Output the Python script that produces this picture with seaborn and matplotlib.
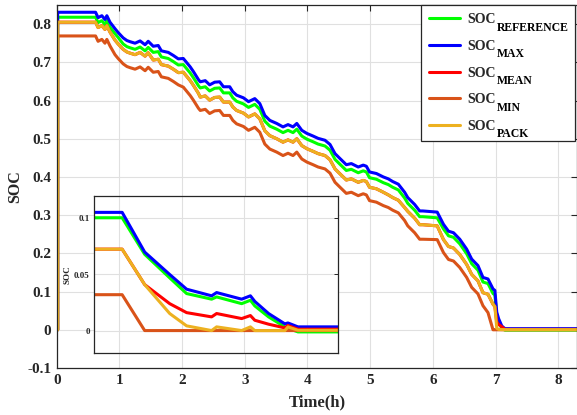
import matplotlib
matplotlib.use("Agg")
import matplotlib.pyplot as plt
import seaborn as sns
import numpy as np

# ---------------- data ----------------
t_main = [0.015, 0.015, 0.62, 0.66, 0.72, 0.77, 0.80, 0.85, 0.93, 0.98,
          1.06, 1.12, 1.17, 1.25, 1.33, 1.41, 1.46, 1.54, 1.62, 1.67,
          1.78, 1.86, 1.94, 2.02, 2.07, 2.13, 2.18, 2.26, 2.29, 2.37,
          2.44, 2.52, 2.60, 2.66, 2.76, 2.81, 2.87, 2.98, 3.06, 3.16,
          3.24, 3.32, 3.40, 3.51, 3.61, 3.69, 3.77, 3.83, 3.91, 3.99,
          4.09, 4.17, 4.28, 4.36, 4.44, 4.52, 4.62, 4.70, 4.81, 4.89,
          4.94, 4.99, 5.10, 5.21, 5.29, 5.36, 5.45, 5.55, 5.60, 5.71,
          5.79, 5.84, 6.07, 6.17, 6.25, 6.33, 6.43, 6.54, 6.62, 6.72,
          6.80, 6.88, 6.96, 6.99, 7.02, 7.05, 7.10, 7.15, 8.30]

soc_max = [0.000, 0.831, 0.831, 0.817, 0.822, 0.812, 0.822, 0.805, 0.788, 0.778,
           0.764, 0.757, 0.754, 0.750, 0.756, 0.746, 0.755, 0.742, 0.744, 0.730,
           0.726, 0.718, 0.709, 0.710, 0.700, 0.688, 0.676, 0.655, 0.649, 0.652,
           0.641, 0.648, 0.649, 0.636, 0.636, 0.623, 0.614, 0.607, 0.597, 0.605,
           0.592, 0.561, 0.548, 0.540, 0.531, 0.537, 0.531, 0.540, 0.522, 0.514,
           0.507, 0.501, 0.496, 0.485, 0.461, 0.448, 0.432, 0.435, 0.426, 0.431,
           0.428, 0.413, 0.409, 0.400, 0.395, 0.388, 0.381, 0.360, 0.346, 0.328,
           0.311, 0.311, 0.308, 0.276, 0.258, 0.254, 0.237, 0.211, 0.185, 0.168,
           0.137, 0.133, 0.107, 0.103, 0.046, 0.029, 0.010, 0.003, 0.003]

soc_ref = [0.000, 0.818, 0.818, 0.804, 0.809, 0.799, 0.809, 0.792, 0.775, 0.765,
           0.748, 0.741, 0.738, 0.734, 0.740, 0.730, 0.739, 0.726, 0.728, 0.714,
           0.710, 0.702, 0.693, 0.694, 0.684, 0.672, 0.660, 0.639, 0.633, 0.636,
           0.625, 0.632, 0.633, 0.620, 0.620, 0.607, 0.598, 0.591, 0.582, 0.590,
           0.577, 0.546, 0.533, 0.525, 0.516, 0.522, 0.516, 0.525, 0.507, 0.499,
           0.492, 0.486, 0.481, 0.470, 0.446, 0.433, 0.417, 0.420, 0.411, 0.416,
           0.413, 0.398, 0.394, 0.385, 0.380, 0.373, 0.366, 0.345, 0.331, 0.313,
           0.296, 0.296, 0.293, 0.264, 0.246, 0.242, 0.225, 0.199, 0.173, 0.156,
           0.125, 0.121, 0.095, 0.091, 0.036, 0.020, 0.004, -0.001, -0.001]

soc_pack = [0.000, 0.805, 0.805, 0.791, 0.796, 0.786, 0.796, 0.779, 0.758, 0.748,
            0.734, 0.727, 0.724, 0.720, 0.726, 0.716, 0.725, 0.706, 0.708, 0.694,
            0.690, 0.682, 0.673, 0.674, 0.664, 0.652, 0.640, 0.619, 0.609, 0.612,
            0.601, 0.608, 0.609, 0.596, 0.596, 0.583, 0.574, 0.567, 0.557, 0.565,
            0.552, 0.521, 0.508, 0.500, 0.491, 0.497, 0.491, 0.500, 0.482, 0.474,
            0.467, 0.461, 0.456, 0.445, 0.421, 0.408, 0.392, 0.395, 0.386, 0.391,
            0.388, 0.373, 0.369, 0.360, 0.353, 0.346, 0.339, 0.320, 0.310, 0.292,
            0.275, 0.275, 0.272, 0.236, 0.218, 0.214, 0.197, 0.171, 0.145, 0.128,
            0.097, 0.093, 0.067, 0.061, 0.004, 0.001, 0.0005, 0.0003, 0.0003]

soc_mean = [0.000, 0.805, 0.805, 0.791, 0.796, 0.786, 0.796, 0.779, 0.758, 0.748,
            0.734, 0.727, 0.724, 0.720, 0.726, 0.716, 0.725, 0.706, 0.708, 0.694,
            0.690, 0.682, 0.673, 0.674, 0.664, 0.652, 0.640, 0.619, 0.609, 0.612,
            0.601, 0.608, 0.609, 0.596, 0.596, 0.583, 0.574, 0.567, 0.557, 0.565,
            0.552, 0.521, 0.508, 0.500, 0.491, 0.497, 0.491, 0.500, 0.482, 0.474,
            0.467, 0.461, 0.456, 0.445, 0.421, 0.408, 0.392, 0.395, 0.386, 0.391,
            0.388, 0.373, 0.369, 0.360, 0.353, 0.346, 0.339, 0.320, 0.310, 0.292,
            0.275, 0.275, 0.272, 0.236, 0.218, 0.214, 0.197, 0.171, 0.145, 0.128,
            0.097, 0.093, 0.067, 0.061, 0.020, 0.014, 0.008, 0.001, 0.001]

soc_min = [0.000, 0.769, 0.769, 0.755, 0.760, 0.750, 0.760, 0.743, 0.720, 0.710,
           0.696, 0.689, 0.686, 0.682, 0.688, 0.678, 0.687, 0.674, 0.676, 0.662,
           0.658, 0.650, 0.641, 0.635, 0.625, 0.613, 0.601, 0.580, 0.574, 0.577,
           0.566, 0.573, 0.574, 0.561, 0.561, 0.548, 0.539, 0.532, 0.522, 0.530,
           0.517, 0.486, 0.473, 0.465, 0.456, 0.462, 0.456, 0.465, 0.447, 0.439,
           0.432, 0.426, 0.421, 0.410, 0.386, 0.373, 0.357, 0.360, 0.351, 0.356,
           0.353, 0.338, 0.334, 0.325, 0.320, 0.313, 0.306, 0.286, 0.272, 0.254,
           0.237, 0.237, 0.236, 0.202, 0.184, 0.180, 0.163, 0.137, 0.111, 0.094,
           0.063, 0.045, 0.000, 0.000, 0.000, 0.000, 0.000, 0.000, 0.000]

# inset (zoomed end-of-discharge view)
t_inset = [0.60, 1.05, 1.41, 1.81, 2.08, 2.48, 2.56, 2.96, 3.10, 3.17,
           3.39, 3.65, 3.70, 3.86, 4.50]
in_max = [0.1054, 0.1054, 0.070, 0.050, 0.0369, 0.031, 0.0339, 0.028, 0.031, 0.026,
          0.0152, 0.006, 0.0068, 0.0033, 0.0033]
in_ref = [0.1006, 0.1006, 0.068, 0.047, 0.033, 0.028, 0.030, 0.024, 0.027, 0.022,
          0.0122, 0.0033, 0.002, -0.0012, -0.0012]
in_mean = [0.0726, 0.0726, 0.041, 0.024, 0.016, 0.0122, 0.0152, 0.0107, 0.0134, 0.0092,
           0.0057, 0.0024, 0.0045, 0.0012, 0.0012]
in_min = [0.032, 0.032, 0.000, 0.000, 0.000, 0.000, 0.000, 0.000, 0.000, 0.000,
          0.000, 0.000, 0.000, 0.000, 0.000]
in_pack = [0.0726, 0.0726, 0.041, 0.0152, 0.0042, 0.000, 0.0033, 0.000, 0.0033, 0.000,
           0.000, 0.000, 0.0033, 0.0003, 0.0003]

label_main = 'SOC'
label_subs = ['REFERENCE', 'MAX', 'MEAN', 'MIN', 'PACK']
colors = ['#00FF00', '#0000FF', '#FF0000', '#D95319', '#EDB120']

x_ticks = [0, 1, 2, 3, 4, 5, 6, 7, 8]
y_ticks = [-0.1, 0, 0.1, 0.2, 0.3, 0.4, 0.5, 0.6, 0.7, 0.8]
y_ticklabels = ['-0.1', '0', '0.1', '0.2', '0.3', '0.4', '0.5', '0.6', '0.7', '0.8']
inset_yticks = [0, 0.05, 0.1]
inset_yticklabels = ['0', '0.05', '0.1']

# ---------------- style ----------------
sns.set_style("whitegrid")
plt.rcParams['font.family'] = ['Liberation Serif', 'DejaVu Serif']
plt.rcParams['font.weight'] = 'bold'
plt.rcParams['axes.unicode_minus'] = False

fig = plt.figure(figsize=(5.77, 4.15), dpi=100)
ax = fig.add_axes([56.7 / 577, (415 - 368) / 415, (577 - 56.7) / 577, (368 - 5) / 415])

main_series = [soc_ref, soc_max, soc_mean, soc_min, soc_pack]
for ys, c in zip(main_series, colors):
    sns.lineplot(x=t_main, y=ys, ax=ax, color=c, lw=2.2, label=label_main,
                 sort=False, estimator=None)

ax.set_xlim(0, 8.3)
ax.set_ylim(-0.1, 0.85)
ax.set_xticks(x_ticks)
ax.set_xticklabels([str(v) for v in x_ticks])
ax.set_yticks(y_ticks)
ax.set_yticklabels(y_ticklabels)
ax.tick_params(direction='in', length=4, width=0.8, labelsize=11, colors='#262626',
               top=True, right=True, pad=4)
for lab in ax.get_xticklabels() + ax.get_yticklabels():
    lab.set_fontweight('bold')
ax.grid(True, color='#E0E0E0', lw=0.8)
for s in ax.spines.values():
    s.set_color('#262626')
    s.set_linewidth(0.9)
ax.set_xlabel('Time(h)', fontsize=12, fontweight='bold', labelpad=6)
ax.set_ylabel('SOC', fontsize=11.5, fontweight='bold', labelpad=3)

leg = ax.legend(loc='upper left',
                bbox_to_anchor=(421 / 577, (415 - 5) / 415, 154 / 577, 0),
                bbox_transform=fig.transFigure, mode='expand', fontsize=10,
                frameon=True, fancybox=False, framealpha=1, edgecolor='#262626',
                handlelength=2.2, handletextpad=0.55, labelspacing=0.98,
                borderpad=0.6, borderaxespad=0)
leg.get_frame().set_linewidth(0.9)
for t in leg.get_texts():
    t.set_fontweight('bold')

# ---------------- inset ----------------
axin = fig.add_axes([94 / 577, (415 - 353) / 415, (338 - 94) / 577, (353 - 196) / 415])
axin.set_facecolor('white')
inset_series = [in_ref, in_max, in_mean, in_min, in_pack]
for ys, c in zip(inset_series, colors):
    sns.lineplot(x=t_inset, y=ys, ax=axin, color=c, lw=2.2, sort=False,
                 estimator=None, legend=False)
axin.set_xlim(0.6, 4.5)
axin.set_ylim(-0.02, 0.12)
axin.set_xticks([1, 2, 3, 4])
axin.set_xticklabels([])
axin.set_yticks(inset_yticks)
axin.set_yticklabels(inset_yticklabels)
axin.tick_params(axis='x', length=0)
axin.tick_params(axis='y', direction='in', length=3, width=0.7, labelsize=6.5,
                 right=True, pad=3, colors='#262626')
for lab in axin.get_yticklabels():
    lab.set_fontweight('bold')
axin.grid(True, color='#E0E0E0', lw=0.8)
for s in axin.spines.values():
    s.set_color('#262626')
    s.set_linewidth(0.9)
axin.set_ylabel('SOC', fontsize=6.5, fontweight='bold', labelpad=2)

# ---------------- legend subscripts ----------------
fig.canvas.draw()
renderer = fig.canvas.get_renderer()
inv = fig.transFigure.inverted()
for t, sub in zip(leg.get_texts(), label_subs):
    bb = t.get_window_extent(renderer)
    x0, y0 = inv.transform((bb.x1 + 0.5, bb.y0 + 4.5))
    fig.text(x0, y0, sub, fontsize=8.5, fontweight='bold', color='#000000',
             ha='left', va='top', zorder=10)

fig.savefig('out.png', dpi=100)
